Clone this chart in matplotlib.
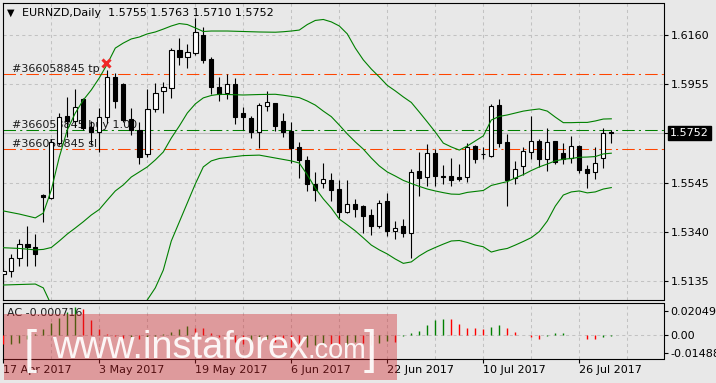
import numpy as np
import matplotlib
matplotlib.use('Agg')
import matplotlib.pyplot as plt
from matplotlib.patches import Rectangle
from matplotlib.transforms import blended_transform_factory, offset_copy

plt.rcParams['font.family'] = ['DejaVu Sans']

# ---------------- data ----------------
opens = [1.5165, 1.5177, 1.5230, 1.5288, 1.5276, 1.5493, 1.5480, 1.5708, 1.5822, 1.5802,
         1.5891, 1.5775, 1.5754, 1.5819, 1.5983, 1.5954, 1.5808, 1.5764, 1.5662, 1.5850,
         1.5927, 1.5937, 1.6096, 1.6068, 1.6085, 1.6158, 1.6057, 1.5941, 1.5916, 1.5954,
         1.5833, 1.5815, 1.5756, 1.5865, 1.5874, 1.5801, 1.5759, 1.5694, 1.5639, 1.5539,
         1.5542, 1.5556, 1.5518, 1.5424, 1.5456, 1.5448, 1.5410, 1.5366, 1.5468, 1.5345,
         1.5364, 1.5334, 1.5593, 1.5567, 1.5667, 1.5573, 1.5572, 1.5567, 1.5567, 1.5697,
         1.5662, 1.5657, 1.5867, 1.5712, 1.5563, 1.5615, 1.5673, 1.5718, 1.5643, 1.5718,
         1.5667, 1.5648, 1.5697, 1.5601, 1.5588, 1.5646, 1.5755]
highs = [1.5190, 1.5248, 1.5309, 1.5364, 1.5331, 1.5497, 1.5726, 1.5833, 1.5899, 1.5933,
         1.5897, 1.5801, 1.5854, 1.6013, 1.5999, 1.5959, 1.5854, 1.5798, 1.5933, 1.5958,
         1.5964, 1.6106, 1.6145, 1.6121, 1.6228, 1.6193, 1.6068, 1.5985, 1.5996, 1.5978,
         1.5860, 1.5822, 1.5877, 1.5926, 1.5877, 1.5833, 1.5795, 1.5715, 1.5657, 1.5588,
         1.5628, 1.5583, 1.5556, 1.5556, 1.5475, 1.5452, 1.5435, 1.5472, 1.5500, 1.5385,
         1.5393, 1.5600, 1.5671, 1.5705, 1.5684, 1.5618, 1.5648, 1.5622, 1.5711, 1.5701,
         1.5694, 1.5870, 1.5892, 1.5747, 1.5635, 1.5694, 1.5822, 1.5726, 1.5771, 1.5719,
         1.5708, 1.5739, 1.5701, 1.5618, 1.5693, 1.5773, 1.5763]
lows = [1.5107, 1.5154, 1.5199, 1.5199, 1.5199, 1.5380, 1.5477, 1.5701, 1.5736, 1.5777,
        1.5764, 1.5701, 1.5673, 1.5793, 1.5854, 1.5797, 1.5743, 1.5621, 1.5652, 1.5840,
        1.5835, 1.5898, 1.6034, 1.6020, 1.6075, 1.6041, 1.5913, 1.5885, 1.5892, 1.5788,
        1.5764, 1.5729, 1.5690, 1.5844, 1.5761, 1.5736, 1.5625, 1.5565, 1.5510, 1.5470,
        1.5524, 1.5470, 1.5399, 1.5420, 1.5403, 1.5334, 1.5327, 1.5357, 1.5323, 1.5310,
        1.5320, 1.5230, 1.5490, 1.5532, 1.5532, 1.5539, 1.5532, 1.5551, 1.5549, 1.5628,
        1.5642, 1.5652, 1.5694, 1.5449, 1.5539, 1.5576, 1.5642, 1.5611, 1.5593, 1.5622,
        1.5621, 1.5625, 1.5586, 1.5524, 1.5560, 1.5604, 1.5710]
closes = [1.5177, 1.5230, 1.5288, 1.5278, 1.5247, 1.5484, 1.5715, 1.5819, 1.5802, 1.5858,
          1.5771, 1.5754, 1.5819, 1.5983, 1.5885, 1.5805, 1.5764, 1.5652, 1.5850, 1.5916,
          1.5941, 1.6096, 1.6068, 1.6087, 1.6170, 1.6055, 1.5941, 1.5912, 1.5954, 1.5819,
          1.5816, 1.5756, 1.5866, 1.5879, 1.5780, 1.5756, 1.5690, 1.5639, 1.5538, 1.5514,
          1.5559, 1.5514, 1.5424, 1.5456, 1.5434, 1.5407, 1.5366, 1.5459, 1.5345, 1.5355,
          1.5334, 1.5588, 1.5565, 1.5667, 1.5573, 1.5569, 1.5556, 1.5560, 1.5692, 1.5643,
          1.5664, 1.5863, 1.5711, 1.5556, 1.5600, 1.5676, 1.5718, 1.5643, 1.5712, 1.5629,
          1.5643, 1.5697, 1.5597, 1.5586, 1.5625, 1.5750, 1.5752]

band_idx = [0, 2, 4, 5, 6, 7, 8, 9, 10, 11, 12, 13, 14, 15, 16, 17, 18, 19, 20, 21,
            22, 23, 24, 25, 26, 27, 28, 30, 32, 34, 35, 36, 37, 38, 39, 40, 41, 42, 43, 44,
            45, 46, 47, 48, 49, 50, 51, 52, 53, 54, 55, 56, 57, 58, 59, 60, 61, 62, 63, 64,
            65, 66, 67, 68, 69, 70, 71, 72, 73, 74, 75, 76]
upper = [1.5427, 1.5414, 1.5398, 1.5418, 1.5514, 1.5651, 1.5764, 1.5834, 1.5888, 1.5930,
         1.5980, 1.6038, 1.6104, 1.6125, 1.6142, 1.6150, 1.6163, 1.6171, 1.6183, 1.6196,
         1.6206, 1.6202, 1.6188, 1.6173, 1.6175, 1.6175, 1.6175, 1.6173, 1.6171, 1.6170,
         1.6172, 1.6175, 1.6179, 1.6202, 1.6219, 1.6223, 1.6213, 1.6196, 1.6163, 1.6104,
         1.6055, 1.6017, 1.5984, 1.5949, 1.5926, 1.5901, 1.5878, 1.5838, 1.5797, 1.5755,
         1.5709, 1.5693, 1.5680, 1.5697, 1.5718, 1.5739, 1.5805, 1.5820, 1.5826, 1.5834,
         1.5842, 1.5847, 1.5851, 1.5842, 1.5817, 1.5794, 1.5794, 1.5795, 1.5795, 1.5801,
         1.5809, 1.5810]
middle = [1.5274, 1.5271, 1.5265, 1.5267, 1.5275, 1.5302, 1.5331, 1.5356, 1.5382, 1.5410,
          1.5433, 1.5472, 1.5510, 1.5535, 1.5568, 1.5589, 1.5610, 1.5639, 1.5672, 1.5730,
          1.5780, 1.5834, 1.5872, 1.5897, 1.5907, 1.5912, 1.5911, 1.5909, 1.5911, 1.5912,
          1.5908, 1.5903, 1.5898, 1.5884, 1.5867, 1.5842, 1.5819, 1.5784, 1.5747, 1.5714,
          1.5684, 1.5647, 1.5614, 1.5589, 1.5572, 1.5554, 1.5541, 1.5529, 1.5518, 1.5510,
          1.5503, 1.5497, 1.5496, 1.5504, 1.5508, 1.5512, 1.5533, 1.5541, 1.5549, 1.5564,
          1.5578, 1.5595, 1.5610, 1.5622, 1.5635, 1.5642, 1.5645, 1.5650, 1.5651, 1.5653,
          1.5664, 1.5667]
lower = [1.5119, 1.5121, 1.5123, 1.5107, 1.5036, 1.4953, 1.4899, 1.4878, 1.4876, 1.4890,
         1.4886, 1.4907, 1.4915, 1.4944, 1.4994, 1.5027, 1.5057, 1.5107, 1.5181, 1.5302,
         1.5381, 1.5460, 1.5539, 1.5610, 1.5635, 1.5645, 1.5649, 1.5657, 1.5659, 1.5647,
         1.5641, 1.5635, 1.5626, 1.5577, 1.5522, 1.5477, 1.5439, 1.5393, 1.5369, 1.5344,
         1.5315, 1.5285, 1.5265, 1.5248, 1.5227, 1.5209, 1.5215, 1.5240, 1.5260, 1.5275,
         1.5289, 1.5302, 1.5304, 1.5296, 1.5285, 1.5278, 1.5256, 1.5265, 1.5271, 1.5285,
         1.5300, 1.5316, 1.5341, 1.5385, 1.5447, 1.5493, 1.5506, 1.5510, 1.5502, 1.5506,
         1.5518, 1.5524]

ac_values = [-0.00759, -0.00700, -0.00615, -0.00337, 0.00084, 0.00565, 0.01071, 0.01475, 0.01939, 0.02403,
             0.02192, 0.01290, 0.00506, 0.00084, -0.00084, -0.00194, -0.00143, -0.00295, -0.00169, -0.00042,
             0.00084, 0.00295, 0.00565, 0.00784, 0.00649, 0.00590, 0.00169, -0.00126, -0.00337, -0.00590,
             -0.00717, -0.00590, -0.00422, -0.00337, -0.00590, -0.00759, -0.01012, -0.01180, -0.01012, -0.00843,
             -0.00674, -0.00759, -0.00927, -0.00759, -0.00590, -0.00674, -0.00843, -0.00674, -0.00506, -0.00590,
             -0.00084, 0.00169, 0.00362, 0.00868, 0.01290, 0.01391, 0.01349, 0.00927, 0.00632, 0.00590,
             0.00565, 0.00733, 0.00868, 0.00590, 0.00253, 0.00042, -0.00110, -0.00278, -0.00042, 0.00194,
             0.00228, 0.00059, 0.00025, -0.00278, -0.00337, -0.00169, -0.00072]

date_ticks = [0, 12, 24, 36, 48, 60, 72]
date_labels = ['17 Apr 2017', '3 May 2017', '19 May 2017', '6 Jun 2017',
               '22 Jun 2017', '10 Jul 2017', '26 Jul 2017']
price_ticks = [1.6160, 1.5955, 1.5750, 1.5545, 1.5340, 1.5135]
ac_ticks = [0.020491, 0.0, -0.014882]
ac_tick_labels = ['0.020491', '0.00', '-0.014882']

symbol = 'EURNZD,Daily'
header_ohlc = ['1.5755', '1.5763', '1.5710', '1.5752']
order_id = '#366058845'
tp_price = 1.5995
buy_price = 1.5762
sl_price = 1.5683
bid_price = 1.5752
tp_hit_bar = 13
ac_last = -0.000716

# ---------------- layout ----------------
W, H, DPI = 716, 383, 100
BG = '#E8E8E8'
GRID = '#C2C2C2'
GREEN = '#008000'
ORANGE = '#FF4500'

def fx(x):
    return x / W

def fy(y):
    return 1 - y / H

fig = plt.figure(figsize=(W / DPI, H / DPI), dpi=DPI, facecolor=BG)
L, R = 2.7, 663.5
ax = fig.add_axes([fx(L), fy(299.5), fx(R) - fx(L), fy(3) - fy(299.5)])
ax2 = fig.add_axes([fx(L), fy(359.3), fx(R) - fx(L), fy(302.7) - fy(359.3)])

n = len(opens)
x = np.arange(n)
o = np.array(opens); h = np.array(highs); lo = np.array(lows); c = np.array(closes)

for a in (ax, ax2):
    a.set_facecolor(BG)
    a.set_xlim(-0.075, 82.525)
    for s in a.spines.values():
        s.set_color('black')
        s.set_linewidth(0.8)
    for g in range(6, 83, 6):
        a.axvline(g, color=GRID, lw=0.75, ls=(0, (3, 3)), zorder=0.5)

ax.set_ylim(1.50587, 1.62915)
for p in price_ticks:
    ax.axhline(p, color=GRID, lw=0.75, ls=(0, (3, 3)), zorder=0.5)

# bid and order lines
ax.axhline(bid_price, color='#BDBDBD', lw=0.8, zorder=1)
ax.axhline(tp_price, color=ORANGE, lw=0.75, ls=(0, (12, 4, 2, 4)), zorder=1.2)
ax.axhline(sl_price, color=ORANGE, lw=0.75, ls=(0, (12, 4, 2, 4)), zorder=1.2)
ax.axhline(buy_price, color=GREEN, lw=0.75, ls=(0, (12, 4, 2, 4)), zorder=1.2)

trans = blended_transform_factory(ax.transAxes, ax.transData)
for lbl, pr in [('tp', tp_price), ('buy 1.00', buy_price), ('sl', sl_price)]:
    ax.text(0.0136, pr, f'{order_id} {lbl}', transform=trans, fontsize=8,
            va='bottom', ha='left', color='#1A1A1A', zorder=1.5)

# candles
up = c >= o
ax.vlines(x, lo, h, color='black', lw=0.8, zorder=3)
ax.bar(x, np.abs(c - o), width=0.55, bottom=np.minimum(o, c),
       color=np.where(up, 'white', 'black'), edgecolor='black', linewidth=0.8, zorder=4)

# bollinger bands
for band in (upper, middle, lower):
    ax.plot(band_idx, band, color=GREEN, lw=0.8, zorder=5)

# tp hit marker
ax.plot(tp_hit_bar - 0.1, highs[tp_hit_bar], marker='x', ms=6, mew=2.2, color='#F02828',
        zorder=6, transform=offset_copy(ax.transData, fig=fig, x=0, y=7, units='dots'))

ax.yaxis.tick_right()
ax.set_yticks(price_ticks)
ax.set_yticklabels(['' if abs(p - bid_price) < 5e-4 else f'{p:.4f}' for p in price_ticks])
ax.tick_params(axis='y', direction='out', length=2.9, width=0.8, pad=2.3, labelsize=8, colors='black')
ax.tick_params(axis='x', length=0, labelbottom=False)

# current price box
ax.text(1.0098, bid_price, f'{bid_price:.4f}', transform=trans, fontsize=8, color='white',
        va='center', ha='left', clip_on=False, zorder=10,
        bbox=dict(boxstyle='square,pad=0.2', fc='black', ec='black'))

# AC subpanel
acv = np.array(ac_values)
cols = ['#FF0000'] + [GREEN if acv[i] > acv[i - 1] else '#FF0000' for i in range(1, n)]
ax2.set_ylim(-0.02023, 0.02748)
ax2.axhline(0, color=GRID, lw=0.75, ls=(0, (3, 3)), zorder=0.5)
ax2.vlines(x, 0, acv, colors=cols, lw=1.0, zorder=3)
ax2.yaxis.tick_right()
ax2.set_yticks(ac_ticks)
ax2.set_yticklabels(ac_tick_labels)
ax2.tick_params(axis='y', direction='out', length=2.9, width=0.8, pad=2.3, labelsize=8, colors='black')
ax2.set_xticks(date_ticks)
ax2.set_xticklabels(date_labels, ha='left')
ax2.tick_params(axis='x', direction='out', length=2.9, width=0.8, pad=1.5, labelsize=8, colors='black')
ax2.text(0.007, 0.813, f'AC {ac_last:.6f}', transform=ax2.transAxes, fontsize=8,
         va='center', ha='left', color='#1A1A1A', zorder=4)

# title
fig.text(fx(6.5), fy(12.7), '\u25BC', fontsize=7, va='center', ha='left', color='black')
fig.text(fx(21.7), fy(12.7), symbol + '  ' + ' '.join(header_ohlc),
         fontsize=8, va='center', ha='left', color='black')

# watermark
fig.patches.append(Rectangle((fx(3.5), fy(380)), fx(397) - fx(3.5), fy(314) - fy(380),
                             transform=fig.transFigure, facecolor=(207 / 255, 37 / 255, 42 / 255),
                             alpha=0.4, edgecolor='none', zorder=10))
wm = dict(color='white', alpha=0.92, zorder=11, family='Liberation Sans', va='baseline', ha='left')
fig.text(fx(24), fy(363), '[', fontsize=34, **wm)
fig.text(fx(52), fy(358), 'www.instaforex', fontsize=27.4, **wm)
fig.text(fx(307), fy(358), '.com', fontsize=19.5, **wm)
fig.text(fx(364), fy(363), ']', fontsize=34, **wm)

fig.savefig('out.png', dpi=DPI, facecolor=BG)
